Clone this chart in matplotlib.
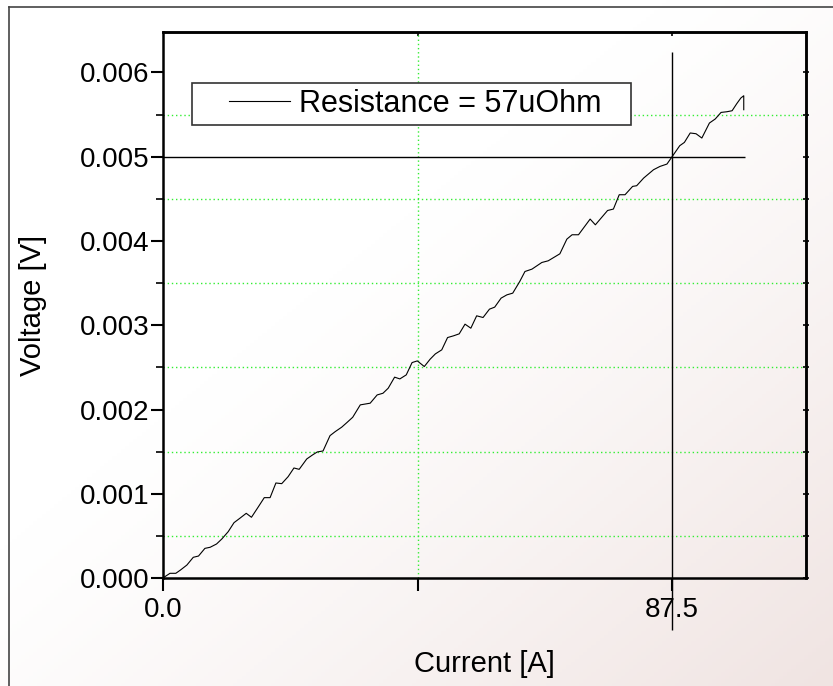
import numpy as np
import matplotlib
matplotlib.use('Agg')
import matplotlib.pyplot as plt
from matplotlib import font_manager
from matplotlib.lines import Line2D
from matplotlib.legend_handler import HandlerLine2D
from matplotlib.ticker import MultipleLocator, FixedLocator

# current [A] vs voltage [mV]
current = [0, 0.3, 1.2, 2.2, 3.0, 4.1, 5.2, 6.1, 7.2, 8.1, 9.2, 10.1, 11.2, 12.2,
           13.2, 14.3, 15.2, 16.4, 17.4, 18.4, 19.4, 20.4, 21.5, 22.5, 23.4, 24.7,
           25.7, 26.5, 27.5, 28.7, 29.6, 30.7, 31.6, 32.6, 33.9, 35.6, 36.8, 37.8,
           38.7, 39.8, 40.7, 41.8, 42.8, 43.7, 44.9, 45.9, 46.8, 47.9, 48.9, 49.9,
           50.9, 51.9, 52.9, 53.9, 55.0, 56.1, 57.0, 58.1, 59.1, 60.1, 61.3, 62.2,
           63.4, 65.1, 66.2, 68.2, 69.4, 70.3, 71.4, 73.4, 74.3, 76.4, 77.4, 78.4,
           79.4, 80.7, 81.4, 82.6, 84.3, 85.4, 86.6, 87.4, 88.8, 89.6, 90.6, 91.6,
           92.6, 93.9, 94.9, 95.9, 96.9, 97.8, 98.6, 99.3, 99.8, 99.8]
voltage_mv = [0, 0.015, 0.056, 0.056, 0.095, 0.154, 0.246, 0.261, 0.352, 0.365, 0.404,
              0.463, 0.55, 0.657, 0.709, 0.768, 0.721, 0.847, 0.954, 0.954, 1.128,
              1.12, 1.203, 1.306, 1.29, 1.413, 1.461, 1.496, 1.508, 1.69, 1.738, 1.79,
              1.845, 1.908, 2.055, 2.075, 2.173, 2.193, 2.253, 2.384, 2.363, 2.411,
              2.557, 2.577, 2.51, 2.597, 2.66, 2.708, 2.854, 2.874, 2.898, 3.013,
              2.965, 3.112, 3.092, 3.191, 3.215, 3.322, 3.361, 3.381, 3.519, 3.638,
              3.666, 3.745, 3.765, 3.848, 4.022, 4.074, 4.074, 4.26, 4.192, 4.362,
              4.379, 4.549, 4.549, 4.648, 4.656, 4.747, 4.846, 4.885, 4.913, 4.992,
              5.131, 5.17, 5.282, 5.273, 5.222, 5.4, 5.448, 5.526, 5.534, 5.546,
              5.63, 5.697, 5.724, 5.558]
voltage = np.array(voltage_mv) / 1000.0

cross_i = 87.5
cross_v = 0.005
yticks = [0.000, 0.001, 0.002, 0.003, 0.004, 0.005, 0.006]
xticks = [0.0, 87.5]
xtick_labels = ['0.0', '87.5']
legend_label = 'Resistance = 57uOhm'

plt.rcParams['font.family'] = ['Liberation Sans', 'DejaVu Sans']

try:
    font_manager.findfont('Liberation Sans Narrow', fallback_to_default=False)
    leg_family = 'Liberation Sans Narrow'
    leg_size = 25
except ValueError:
    leg_family = 'Liberation Sans'
    leg_size = 22

fig = plt.figure(figsize=(8.33, 6.86), dpi=100)

# faint scan background: white fading to pinkish beige bottom right
bg = fig.add_axes([0, 0, 1, 1], zorder=-10)
gx, gy = np.meshgrid(np.linspace(0, 1, 200), np.linspace(0, 1, 200))
t = np.clip((gx + gy - 0.8) / 1.2, 0, 1) ** 1.2
c0 = np.array([1.0, 1.0, 1.0])
c1 = np.array([240, 228, 226]) / 255.0
img = c0[None, None, :] * (1 - t[..., None]) + c1[None, None, :] * t[..., None]
bg.imshow(img, extent=[0, 1, 0, 1], aspect='auto', origin='upper')
bg.axis('off')
# scan frame (top and left edges)
bg.plot([0.011, 1.0], [0.990, 0.990], color='#444444', lw=1.2, transform=bg.transAxes)
bg.plot([0.011, 0.011], [0.0, 0.990], color='#444444', lw=1.2, transform=bg.transAxes)
bg.set_xlim(0, 1)
bg.set_ylim(0, 1)

ax = fig.add_axes([0.1957, 0.1574, 0.7719, 0.7959])
ax.patch.set_alpha(0)

ax.plot(current, voltage, color='black', lw=0.8)
ax.hlines(cross_v, 0, 100, color='black', lw=1.0)
ax.vlines(cross_i, -0.00062, 0.00624, color='black', lw=1.0, clip_on=False, zorder=5)

ax.set_xlim(0, 110.5)
ax.set_ylim(0, 0.00648)

ax.yaxis.set_major_locator(FixedLocator(yticks))
ax.set_yticklabels(['%.3f' % v for v in yticks])
ax.yaxis.set_minor_locator(MultipleLocator(0.0005))
ax.xaxis.set_major_locator(FixedLocator(xticks))
ax.set_xticklabels(xtick_labels)
ax.xaxis.set_minor_locator(FixedLocator([43.75]))

ax.tick_params(axis='both', which='major', direction='out', length=9, width=1.5,
               labelsize=20)
ax.tick_params(axis='y', which='major', pad=1)
ax.tick_params(axis='x', which='major', pad=5)
ax.tick_params(axis='y', which='minor', direction='out', length=5, width=1.2)
ax.tick_params(axis='x', which='minor', direction='out', length=9, width=1.5)

ax.grid(True, which='minor', color='#33ee33', linestyle=(0, (1, 2)), lw=1.0)
ax.grid(False, which='major')

for s in ax.spines.values():
    s.set_linewidth(1.8)

rax = ax.secondary_yaxis('right')
rax.yaxis.set_major_locator(FixedLocator(yticks))
rax.yaxis.set_minor_locator(MultipleLocator(0.0005))
rax.tick_params(which='both', direction='inout', length=5, width=1.2, labelright=False)
rax.spines['right'].set_linewidth(1.8)

tax = ax.secondary_xaxis('top')
tax.xaxis.set_major_locator(FixedLocator([43.75, 87.5]))
tax.tick_params(which='both', direction='in', length=3, width=1.2, labeltop=False)
tax.xaxis.set_minor_locator(FixedLocator([]))
tax.spines['top'].set_linewidth(1.8)

ax.set_xlabel('Current [A]', fontsize=21)
ax.xaxis.set_label_coords(0.5, -0.132)
ax.set_ylabel('Voltage [V]', fontsize=21)
ax.yaxis.set_label_coords(-0.18, 0.5)


class LeadLine(HandlerLine2D):
    def get_xdata(self, legend, xdescent, ydescent, width, height, fontsize):
        x = np.array([-xdescent + 0.34 * width, width - xdescent])
        return x, x


h = Line2D([], [], color='black', lw=0.8)
leg = ax.legend([h], [legend_label], loc='upper left',
                bbox_to_anchor=(0.045, 0.83, 0.683, 0.077), mode='expand',
                borderaxespad=0, borderpad=0.2, handlelength=3.0, handletextpad=0.3,
                fancybox=False, framealpha=1, edgecolor='#333333',
                prop={'family': leg_family, 'size': leg_size},
                handler_map={h: LeadLine()})
leg.get_frame().set_linewidth(1.2)

fig.savefig('out.png', dpi=100)
